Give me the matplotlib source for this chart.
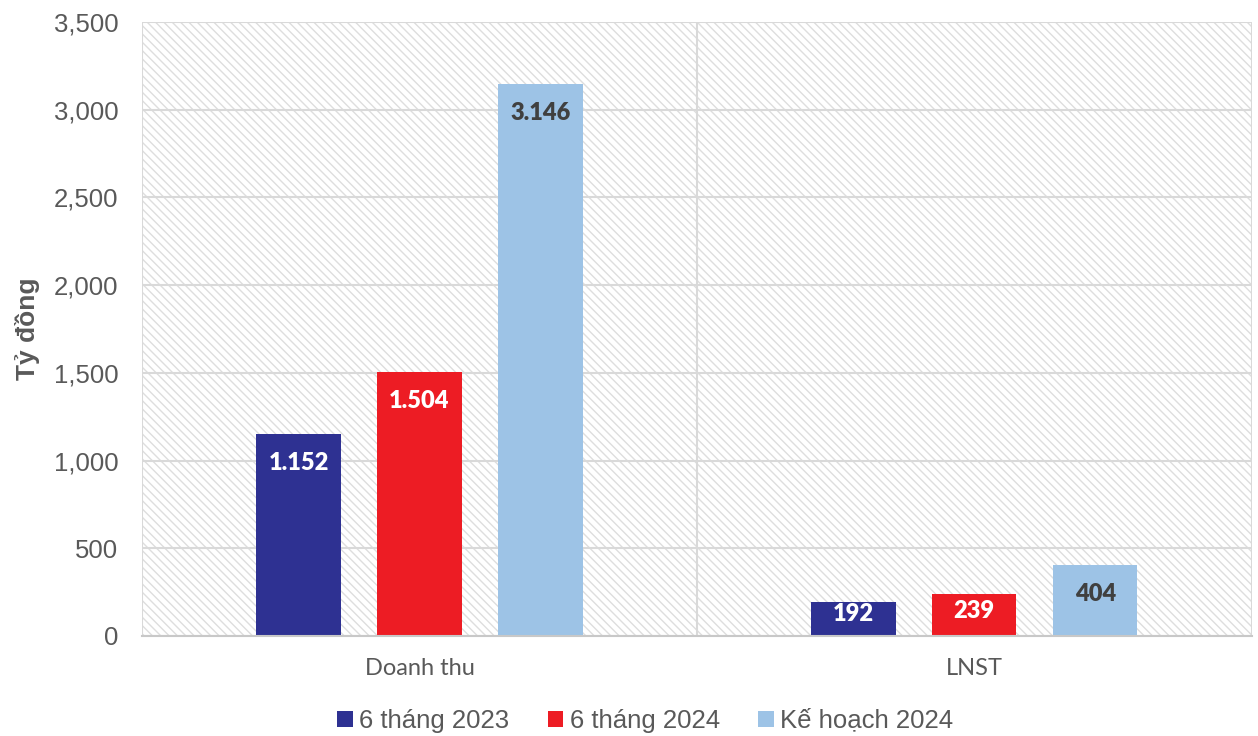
import matplotlib
matplotlib.use("Agg")
import matplotlib.pyplot as plt
from matplotlib.patches import Rectangle
from matplotlib.ticker import FuncFormatter
import numpy as np

categories = ["Doanh thu", "LNST"]
series = ["6 tháng 2023", "6 tháng 2024", "Kế hoạch 2024"]
values = {
    "6 tháng 2023": [1152, 192],
    "6 tháng 2024": [1504, 239],
    "Kế hoạch 2024": [3146, 404],
}
colors = ["#2e3192", "#ed1c24", "#9dc3e6"]
label_colors = ["white", "white", "#404040"]

plt.rcParams['font.family'] = ['Liberation Sans', 'DejaVu Sans']
grey = "#595959"

fig = plt.figure(figsize=(12.58, 7.36), dpi=100)
ax = fig.add_axes([0.1129, 0.1359, 0.995 - 0.1129, 0.970 - 0.1359])

# hatched plot background
plt.rcParams['hatch.linewidth'] = 1.0
bg = Rectangle((0, 0), 1, 1, transform=ax.transAxes, facecolor="white",
               edgecolor="#dedede", hatch="\\\\\\\\", linewidth=0, zorder=0)
ax.add_patch(bg)

x = np.arange(len(categories)) + 0.5
w = 0.152
step = 0.218
for i, s in enumerate(series):
    xs = x + (i - 1) * step
    ax.bar(xs, values[s], width=w, color=colors[i], zorder=3, label=s)
    for xi, v in zip(xs, values[s]):
        off = 13 if v > 300 else (4 if v > 200 else 0.5)
        ax.annotate(f"{v:,}".replace(",", "."), (xi, v), xytext=(0, -off),
                    textcoords="offset points", ha="center", va="top",
                    fontsize=17, fontweight="heavy", color=label_colors[i],
                    family=["Lato", "DejaVu Sans"], zorder=4)

ax.set_xlim(0, 2)
ax.set_ylim(0, 3500)
ax.set_yticks(np.arange(0, 3501, 500))
ax.yaxis.set_major_formatter(FuncFormatter(lambda v, p: f"{int(v):,}"))
ax.set_xticks(x)
ax.set_xticklabels(categories, family=["Lato", "DejaVu Sans"])
ax.tick_params(axis="y", length=0, pad=17, labelsize=18.5, labelcolor=grey)
ax.tick_params(axis="x", length=0, pad=16, labelsize=17, labelcolor=grey)

ax.grid(axis="y", color="#d9d9d9", linewidth=1.5, zorder=1)
ax.set_axisbelow(True)
for xv in (0, 1, 2):
    ax.axvline(xv, color="#d9d9d9", linewidth=1.5, zorder=1)
for sp in ("top", "right", "left"):
    ax.spines[sp].set_visible(False)
ax.spines["bottom"].set_color("#c8c8c8")
ax.spines["bottom"].set_linewidth(1.5)
ax.spines["bottom"].set_zorder(5)

ax.set_ylabel("Tỷ đồng", fontsize=19, fontweight="bold", color=grey, labelpad=10)

fig.legend(loc="lower center", ncol=3, frameon=False, fontsize=18.5,
           bbox_to_anchor=(0.513, -0.027), handlelength=0.6, handleheight=0.6,
           handletextpad=0.25, columnspacing=1.5, labelcolor=grey)

fig.savefig("out.png", dpi=100)
